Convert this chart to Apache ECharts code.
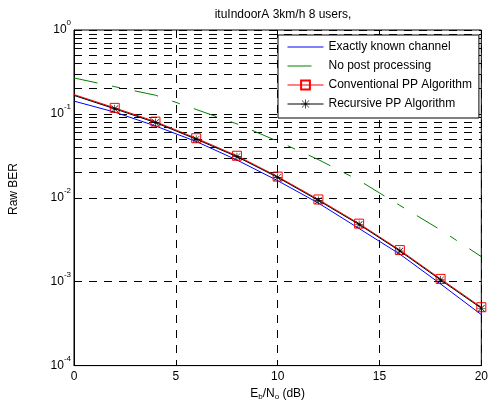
<!DOCTYPE html>
<html>
<head>
<meta charset="utf-8">
<script src="https://cdn.jsdelivr.net/npm/echarts@6/dist/echarts.min.js"></script>
<style>
  html, body { margin: 0; padding: 0; background: #fff; }
  #chart { width: 491px; height: 406px; }
</style>
</head>
<body>
<div id="chart"></div>
<script>
// Eb/No sample points (dB)
const snrDb = [0, 2, 4, 6, 8, 10, 12, 14, 16, 18, 20];

// Raw bit error rate per receiver variant
const berKnownChannel = [0.142, 0.105, 0.0718, 0.0469, 0.0282, 0.0160, 0.00865, 0.0043, 0.00213, 0.00094, 0.000405];
const berNoPostProc   = [0.268, 0.211, 0.167, 0.113, 0.0760, 0.0473, 0.0285, 0.0161, 0.00811, 0.00414, 0.00199];
const berConventional = [0.170, 0.118, 0.0809, 0.0513, 0.0317, 0.0179, 0.00955, 0.00492, 0.00238, 0.00108, 0.000496];
const berRecursive    = [0.166, 0.115, 0.0788, 0.0500, 0.0309, 0.0175, 0.0093, 0.0048, 0.00232, 0.00105, 0.000483];

const seriesNames = ['Exactly known channel', 'No post processing', 'Conventional PP Algorithm', 'Recursive PP Algorithm'];
const xTicks = [0, 5, 10, 15, 20];

const FONT = '"Liberation Sans", Arial, sans-serif';
const GRID_DASH = [8, 7];

const pairs = (ys) => snrDb.map((x, i) => [x, ys[i]]);
// the 0 dB point carries no marker
const pairsNoFirstMarker = (ys) => snrDb.map((x, i) =>
  x === 0 ? { value: [x, ys[i]], symbol: 'none' } : [x, ys[i]]);

// minor grid values 2..9 x 10^k for every decade on the log axis
const minorGrid = [];
for (let k = -4; k < 0; k++) {
  for (let m = 2; m <= 9; m++) minorGrid.push({ yAxis: m * Math.pow(10, k) });
}

// MATLAB-style asterisk marker
const ASTERISK = 'path://M0 9.2H20V10.8H0Z M9.2 0H10.8V20H9.2Z ' +
  'M2.3 1.2L18.8 17.7L17.7 18.8L1.2 2.3Z M17.7 1.2L18.8 2.3L2.3 18.8L1.2 17.7Z';

const chart = echarts.init(document.getElementById('chart'), null, { renderer: 'canvas' });

chart.setOption({
  animation: false,
  backgroundColor: '#fff',
  textStyle: { fontFamily: FONT, color: '#000' },
  grid: {
    left: 74, right: 5, top: 30, bottom: 38,
    show: true, borderColor: '#000', borderWidth: 1, backgroundColor: 'transparent'
  },
  graphic: [
    {
      type: 'text', x: 283, y: 15, z: 10,
      style: { text: 'ituIndoorA 3km/h 8 users,', font: '12px ' + FONT, fill: '#000', align: 'center', verticalAlign: 'middle' }
    },
    {
      type: 'text', x: 14, y: 189, rotation: Math.PI / 2, z: 10,
      style: { text: 'Raw BER', font: '12px ' + FONT, fill: '#000', align: 'center', verticalAlign: 'middle' }
    }
  ],
  legend: {
    data: [
      { name: seriesNames[0], itemStyle: { opacity: 0 } },
      { name: seriesNames[1], itemStyle: { opacity: 0 } },
      { name: seriesNames[2] },
      { name: seriesNames[3] }
    ],
    orient: 'vertical',
    left: 278, top: 35, z: 20,
    padding: [6, 7, 8, 9],
    itemWidth: 36, itemHeight: 11, itemGap: 7,
    lineStyle: { width: 1 },
    backgroundColor: '#fff', borderColor: '#000', borderWidth: 1, borderRadius: 0,
    textStyle: { fontFamily: FONT, fontSize: 12, color: '#000', lineHeight: 12 },
    selectedMode: false
  },
  xAxis: {
    type: 'value', min: 0, max: 20, interval: 5,
    name: '{n|E}{s|b}{n|/N}{s|o}{n| (dB)}',
    nameLocation: 'middle', nameGap: 20,
    nameTextStyle: {
      rich: {
        n: { fontFamily: FONT, fontSize: 12, color: '#000' },
        s: { fontFamily: FONT, fontSize: 8, color: '#000', padding: [7, 0, 0, 0] }
      }
    },
    axisLine: { show: true, lineStyle: { color: '#000', width: 1 } },
    axisTick: { show: true, inside: true, length: 4, lineStyle: { color: '#000' } },
    axisLabel: {
      fontFamily: FONT, fontSize: 12, color: '#000', margin: 5,
      formatter: (v) => xTicks.includes(v) ? String(v) : ''
    },
    splitLine: { show: true, lineStyle: { color: '#000', width: 1, type: GRID_DASH } }
  },
  yAxis: {
    type: 'log', logBase: 10, min: 1e-4, max: 1,
    axisLine: { show: true, lineStyle: { color: '#000', width: 1 } },
    axisTick: { show: true, inside: true, length: 4, lineStyle: { color: '#000' } },
    axisLabel: {
      margin: 3,
      formatter: (v) => '{b|10}{e|' + Math.round(Math.log10(v)) + '}',
      rich: {
        b: { fontFamily: FONT, fontSize: 12, color: '#000' },
        e: { fontFamily: FONT, fontSize: 8, color: '#000', padding: [0, 0, 14, 0] }
      }
    },
    splitLine: { show: true, lineStyle: { color: '#000', width: 1, type: GRID_DASH } }
  },
  series: [
    {
      // minor log grid lines
      name: 'minor-grid', type: 'line', data: [], z: 0, silent: true,
      markLine: {
        silent: true, symbol: 'none', animation: false, z: 0,
        label: { show: false },
        lineStyle: { color: '#000', width: 1, type: GRID_DASH },
        data: minorGrid
      }
    },
    {
      name: seriesNames[0], type: 'line', data: pairs(berKnownChannel),
      symbol: 'none', z: 3,
      lineStyle: { color: '#0000ff', width: 1 },
      itemStyle: { color: '#0000ff' }
    },
    {
      name: seriesNames[1], type: 'line', data: pairs(berNoPostProc),
      symbol: 'none', z: 3,
      lineStyle: { color: '#008000', width: 1, type: [24, 15, 8, 15] },
      itemStyle: { color: '#008000' }
    },
    {
      name: seriesNames[2], type: 'line', data: pairsNoFirstMarker(berConventional),
      symbol: 'rect', symbolSize: 9, z: 4,
      lineStyle: { color: '#ff0000', width: 1 },
      itemStyle: { color: 'rgba(255,255,255,0)', borderColor: '#ff0000', borderWidth: 1 }
    },
    {
      name: seriesNames[3], type: 'line', data: pairsNoFirstMarker(berRecursive),
      symbol: ASTERISK, symbolSize: 8, z: 5,
      lineStyle: { color: '#000', width: 1 },
      itemStyle: { color: '#000', borderWidth: 0 }
    }
  ]
});
</script>
</body>
</html>
